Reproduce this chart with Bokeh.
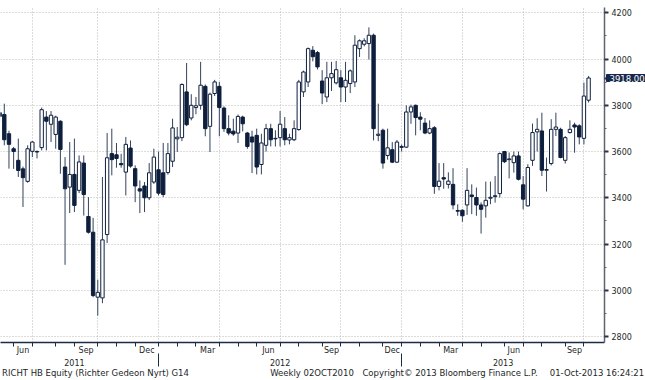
import numpy as np
import pandas as pd
from bokeh.plotting import figure
from bokeh.models import ColumnDataSource, Range1d, LinearAxis, FixedTicker, Grid, Label
from bokeh.embed import file_html
from bokeh.resources import INLINE

# ---- weekly OHLC, RICHT HB Equity (bars dated week-ending Friday) ----
first_week = "2011-05-06"
opens = [3768, 3760, 3677, 3612, 3562, 3525, 3471, 3601, 3600, 3617,
         3749, 3718, 3674, 3731, 3533, 3446, 3501, 3432, 3550, 3319,
         3251, 2970, 2967, 3241, 3591, 3586, 3548, 3511, 3615, 3526,
         3439, 3451, 3400, 3468, 3521, 3508, 3509, 3558, 3655, 3660,
         3858, 3745, 3790, 3800, 3882, 3709, 3851, 3882, 3788, 3699,
         3688, 3680, 3749, 3680, 3663, 3670, 3544, 3627, 3699, 3655,
         3660, 3699, 3650, 3651, 3695, 3858, 3901, 4038, 4028, 3905,
         3836, 3919, 3897, 3919, 3879, 3894, 3901, 4045, 4064, 4067,
         4103, 3670, 3692, 3583, 3608, 3554, 3618, 3619, 3771, 3800,
         3749, 3723, 3680, 3703, 3449, 3487, 3458, 3458, 3345, 3346,
         3369, 3412, 3401, 3369, 3365, 3398, 3405, 3418, 3600, 3565,
         3552, 3581, 3456, 3365, 3562, 3685, 3689, 3519, 3548, 3696,
         3696, 3562, 3682, 3715, 3711, 3657, 3822]
highs = [3790, 3807, 3690, 3620, 3656, 3535, 3627, 3645, 3605, 3790,
         3775, 3775, 3755, 3735, 3576, 3641, 3656, 3583, 3583, 3403,
         3313, 3045, 3490, 3680, 3699, 3637, 3590, 3663, 3648, 3540,
         3475, 3468, 3550, 3612, 3600, 3637, 3637, 3742, 3706, 3895,
         3983, 3848, 3836, 3988, 3890, 3855, 3910, 3901, 3795, 3757,
         3742, 3760, 3755, 3685, 3690, 3699, 3677, 3720, 3720, 3692,
         3775, 3749, 3677, 3735, 3910, 3950, 4050, 4056, 4035, 3952,
         3988, 3988, 3992, 3952, 3988, 3955, 4103, 4085, 4090, 4137,
         4110, 3807, 3699, 3699, 3641, 3650, 3630, 3800, 3803, 3803,
         3770, 3745, 3735, 3710, 3550, 3550, 3510, 3528, 3372, 3350,
         3528, 3458, 3444, 3380, 3470, 3470, 3494, 3596, 3603, 3596,
         3600, 3600, 3494, 3545, 3721, 3744, 3768, 3574, 3740, 3768,
         3703, 3667, 3735, 3725, 3718, 3898, 3927]
lows = [3730, 3627, 3526, 3525, 3490, 3360, 3465, 3576, 3570, 3605,
        3605, 3641, 3612, 3504, 3110, 3334, 3338, 3420, 3323, 3245,
        2970, 2890, 2944, 3204, 3497, 3530, 3530, 3410, 3530, 3381,
        3334, 3338, 3390, 3460, 3410, 3403, 3500, 3533, 3598, 3645,
        3710, 3735, 3761, 3781, 3666, 3598, 3840, 3666, 3685, 3670,
        3668, 3637, 3687, 3612, 3507, 3501, 3501, 3600, 3622, 3622,
        3622, 3627, 3631, 3645, 3690, 3836, 3879, 3990, 3955, 3805,
        3814, 3862, 3890, 3814, 3814, 3853, 3879, 4009, 4055, 3998,
        3648, 3645, 3526, 3565, 3550, 3550, 3600, 3615, 3720, 3670,
        3692, 3675, 3675, 3417, 3432, 3439, 3440, 3350, 3322, 3296,
        3326, 3329, 3322, 3245, 3314, 3372, 3379, 3401, 3550, 3484,
        3509, 3475, 3350, 3362, 3538, 3600, 3494, 3427, 3540, 3667,
        3571, 3548, 3678, 3595, 3631, 3631, 3812]
closes = [3752, 3651, 3631, 3600, 3518, 3487, 3612, 3641, 3598, 3781,
          3731, 3757, 3749, 3609, 3439, 3501, 3367, 3555, 3414, 3251,
          2977, 2991, 3218, 3573, 3565, 3570, 3543, 3631, 3537, 3451,
          3429, 3400, 3508, 3576, 3420, 3414, 3591, 3702, 3662, 3890,
          3716, 3800, 3798, 3887, 3699, 3848, 3901, 3790, 3699, 3680,
          3676, 3752, 3720, 3622, 3641, 3533, 3637, 3699, 3651, 3657,
          3718, 3651, 3660, 3699, 3901, 3944, 4045, 4010, 3966, 3853,
          3919, 3937, 3954, 3879, 3908, 3949, 4060, 4079, 4079, 4103,
          3699, 3675, 3550, 3616, 3554, 3641, 3622, 3771, 3793, 3747,
          3740, 3680, 3699, 3449, 3472, 3481, 3472, 3369, 3342, 3322,
          3432, 3405, 3369, 3350, 3389, 3402, 3409, 3591, 3556, 3568,
          3581, 3480, 3394, 3531, 3682, 3696, 3519, 3522, 3696, 3706,
          3574, 3660, 3696, 3706, 3663, 3840, 3918]
y_ticks = [2800, 3000, 3200, 3400, 3600, 3800, 4000, 4200]
y_minor = [2900, 3100, 3300, 3500, 3700, 3900, 4100]
year_txt = ["2011", "2012", "2013"]
last_price = 3918.00
footer_txt = ["RICHT HB Equity (Richter Gedeon Nyrt) G14", "Weekly 02OCT2010",
              "Copyright\u00a9 2013 Bloomberg Finance L.P.", "01-Oct-2013 16:24:21"]

# ---- derived positions (Bloomberg-style bar index axis) ----
n = len(opens)
dates = pd.date_range(first_week, periods=n, freq="W-FRI")
idx = np.arange(n) - 1  # first bar sits just left of the visible window

o = np.array(opens, float); h = np.array(highs, float)
l = np.array(lows, float); c = np.array(closes, float)
up = c >= o
src_up = ColumnDataSource(dict(x=idx[up], top=c[up], bottom=o[up]))
src_dn = ColumnDataSource(dict(x=idx[~up], top=o[~up], bottom=c[~up]))
src_w = ColumnDataSource(dict(x=idx, h=h, l=l))

ends = [k for k in range(n - 1) if dates[k].month != dates[k + 1].month]
month_end = [int(idx[k]) for k in ends]
month_end_m = [dates[k].month for k in ends]
quarter_end = [i for i, m in zip(month_end, month_end_m) if m in (3, 6, 9, 12)]
year_end = [i for i, m in zip(month_end, month_end_m) if m == 12]

lab_pos, lab_txt = [], []
for k in range(1, len(ends)):
    if month_end_m[k] in (3, 6, 9, 12):
        lab_pos.append((month_end[k - 1] + month_end[k]) / 2)
        lab_txt.append(dates[ends[k]].strftime("%b"))

W, H = 645, 380
RB, BB = 41, 38               # right / bottom borders
x0, x1 = -0.81, 128.4
px_bar = (W - RB) / (x1 - x0)
year_pos = [15.0, (year_end[0] + year_end[1]) / 2, (year_end[1] + x1) / 2]
footer_px = [95, 311.5, 449.5, 596.5]          # centre pixel of each footer piece
footer_pos = [round(x0 + px / px_bar, 3) for px in footer_px]

FONT = "DejaVu Sans"
TXT = "#1c1f26"
NAVY = "#0e1f3d"
TAG = "#16284a"

p = figure(width=W, height=H, output_backend="svg", toolbar_location=None,
           x_range=Range1d(x0, x1), y_range=Range1d(2774, 4223),
           x_axis_location=None, y_axis_location=None,
           min_border_left=0, min_border_top=0, min_border_right=RB, min_border_bottom=BB)
p.outline_line_color = None
p.background_fill_color = "white"
p.border_fill_color = "white"
p.grid.visible = False

gx = Grid(dimension=0, ticker=FixedTicker(ticks=quarter_end),
          grid_line_color="#b8b8b8", grid_line_dash="1 2", grid_line_width=1)
gy = Grid(dimension=1, ticker=FixedTicker(ticks=y_ticks),
          grid_line_color="#b8b8b8", grid_line_dash="1 2", grid_line_width=1)
p.add_layout(gx, "center")
p.add_layout(gy, "center")

# candles
p.segment(x0="x", y0="l", x1="x", y1="h", source=src_w, line_color="#33425a", line_width=1)
p.vbar(x="x", width=0.72, top="top", bottom="bottom", source=src_up,
       fill_color="white", line_color=NAVY, line_width=1)
p.vbar(x="x", width=0.72, top="top", bottom="bottom", source=src_dn,
       fill_color=NAVY, line_color=NAVY, line_width=1)


def style_labels(ax, size="8px"):
    ax.major_label_text_font = FONT
    ax.major_label_text_font_size = size
    ax.major_label_text_color = TXT


def no_ticks(ax):
    ax.axis_line_color = None
    ax.major_tick_out = 0
    ax.major_tick_in = 0
    ax.minor_tick_out = 0
    ax.minor_tick_in = 0


# month axis
xa = LinearAxis(ticker=FixedTicker(ticks=lab_pos, minor_ticks=month_end),
                major_label_overrides={float(k): v for k, v in zip(lab_pos, lab_txt)})
xa.axis_line_color = "#1d2c46"
xa.axis_line_width = 1.5
xa.major_tick_out = 0
xa.major_tick_in = 0
xa.minor_tick_out = 4
xa.minor_tick_in = 0
xa.minor_tick_line_color = "#1d2c46"
xa.major_label_standoff = -1
style_labels(xa)
p.add_layout(xa, "below")

# year axis
yr = LinearAxis(ticker=FixedTicker(ticks=year_pos, minor_ticks=year_end),
                major_label_overrides={float(k): v for k, v in zip(year_pos, year_txt)})
yr.axis_line_color = None
yr.major_tick_out = 0
yr.major_tick_in = 0
yr.minor_tick_in = 4
yr.minor_tick_out = 9
yr.minor_tick_line_color = "#1d2c46"
yr.major_label_standoff = -8
style_labels(yr)
p.add_layout(yr, "below")

# footer line (source / copyright / timestamp)
ft = LinearAxis(ticker=FixedTicker(ticks=footer_pos),
                major_label_overrides={float(k): v for k, v in zip(footer_pos, footer_txt)})
no_ticks(ft)
ft.major_label_standoff = -1
style_labels(ft, "8.5px")
p.add_layout(ft, "below")

# right price axis (tick at last price acts as the tag pointer)
ra = LinearAxis(ticker=FixedTicker(ticks=y_ticks + [last_price], minor_ticks=y_minor),
                major_label_overrides={float(last_price): ""})
ra.axis_line_color = "#5d6470"
ra.axis_line_width = 1.5
ra.major_tick_out = 4
ra.major_tick_in = 0
ra.major_tick_line_width = 2
ra.major_tick_line_color = "#2a3345"
ra.minor_tick_out = 2
ra.minor_tick_in = 0
ra.minor_tick_line_color = "#5d6470"
ra.major_label_standoff = 3
style_labels(ra)
p.add_layout(ra, "right")

# last-price tag (side-panel label, so it may sit beside the frame)
tag = Label(x=W - RB + 2, y=last_price, x_units="screen", y_units="data",
            text=f"{last_price:.2f}", text_color="white", text_font=FONT,
            text_font_size="8.5px", text_baseline="middle", text_align="left",
            background_fill_color=TAG, border_line_color=TAG, padding=(3, 0))
p.add_layout(tag, "above")

open("out.html", "w").write(file_html(p, INLINE))
